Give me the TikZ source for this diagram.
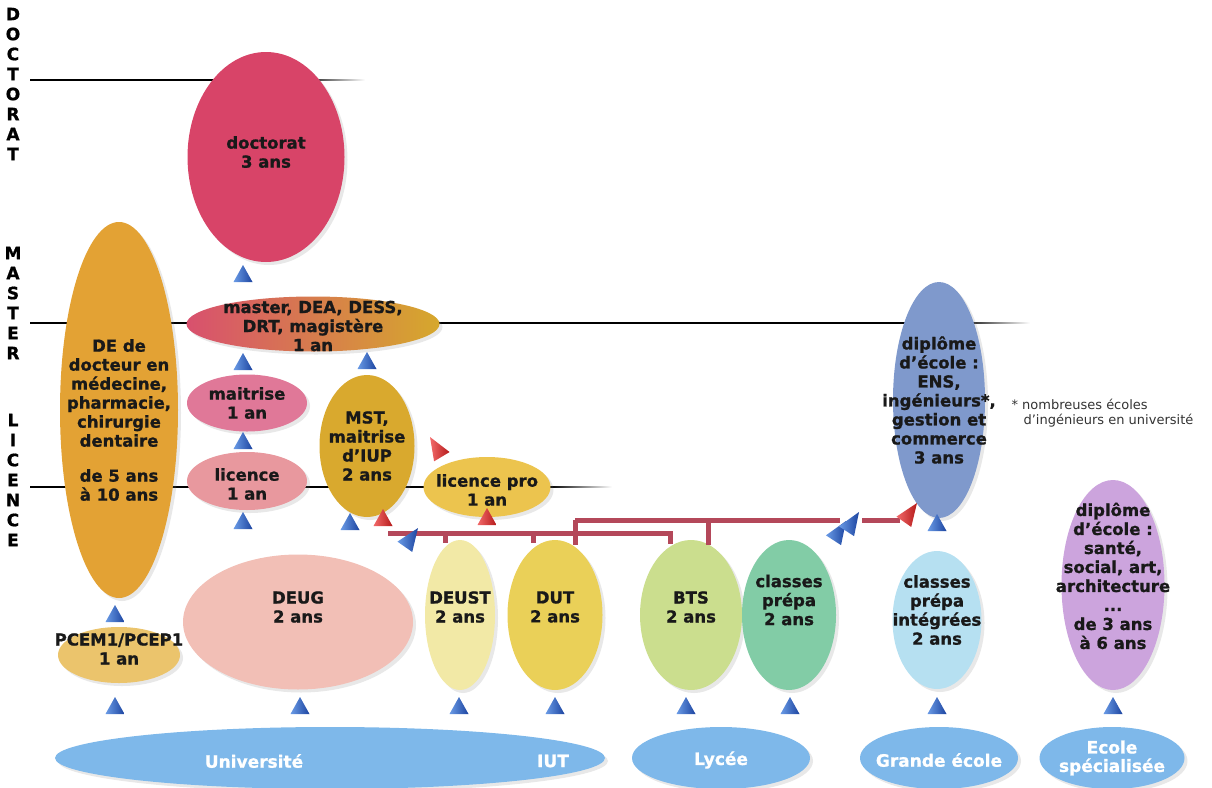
\documentclass[tikz,border=0pt]{standalone}
\usepackage{fontspec}
\setmainfont{DejaVu Sans}[BoldFeatures={FakeBold=1}]
\usepackage{xcolor}
\usetikzlibrary{shapes.geometric, shadows}

\definecolor{rougedoc}{HTML}{D84468}
\definecolor{orangede}{HTML}{E3A234}
\definecolor{mastergauche}{HTML}{D8506E}
\definecolor{masterdroite}{HTML}{D6A82C}
\definecolor{rosemait}{HTML}{E07898}
\definecolor{roselic}{HTML}{E8989E}
\definecolor{ormst}{HTML}{D9A92E}
\definecolor{jaunelp}{HTML}{ECC44E}
\definecolor{orpcem}{HTML}{EBC46C}
\definecolor{rosedeug}{HTML}{F2BFB6}
\definecolor{jaunedeust}{HTML}{F2E9A6}
\definecolor{jaunedut}{HTML}{EAD058}
\definecolor{vertbts}{HTML}{CBDE8E}
\definecolor{vertprepa}{HTML}{82CCA6}
\definecolor{bleuint}{HTML}{B6E0F1}
\definecolor{bleuens}{HTML}{7F99CC}
\definecolor{mauvesante}{HTML}{CCA4DD}
\definecolor{bleubase}{HTML}{7EB8EA}
\definecolor{bleuclair}{HTML}{6A9BE6}
\definecolor{bleufonce}{HTML}{1C44A0}
\definecolor{rougeclair}{HTML}{F26A6A}
\definecolor{rougefonce}{HTML}{B51A1A}
\definecolor{rougebus}{HTML}{B4485A}

\begin{document}
\begin{tikzpicture}[
    x=1pt, y=-1pt,
    % Styles
    bulle/.style={ellipse, inner sep=0pt, outer sep=0pt, drop shadow={opacity=0.18, shadow xshift=3pt, shadow yshift=-3pt}},
    txt/.style={align=center, text=black!90, font=\fontsize{16.5}{19}\selectfont\bfseries},
    basetxt/.style={align=center, text=white, font=\fontsize{17}{18.5}\selectfont\bfseries},
    axe/.style={align=center, font=\fontsize{17}{20}\selectfont\bfseries},
    note/.style={align=left, text=black!80, font=\fontsize{13}{15}\selectfont},
    bus/.style={draw=rougebus, line width=5pt},
    repere/.style={draw=black, line width=1.1pt},
    oblique/.style={xscale=0.95, yscale=1.35},
    % Pointes de fleche
    pointe/.pic={\shade[left color=bleuclair, right color=bleufonce] (0,0) -- (-9.5,17) -- (9.5,17) -- cycle;},
    pointerouge/.pic={\shade[left color=rougeclair, right color=rougefonce] (0,0) -- (-9.5,17) -- (9.5,17) -- cycle;}
]
\useasboundingbox (0,0) rectangle (1212,787);

% Niveaux
\node[axe] (l-doc) at (13,84) {D\\O\\C\\T\\O\\R\\A\\T};
\node[axe] (l-master) at (13,303) {M\\A\\S\\T\\E\\R};
\node[axe] (l-licence) at (13,480) {L\\I\\C\\E\\N\\C\\E};

\draw[repere] (30,80) -- (300,80);
\shade[left color=black, right color=white] (300,79.45) rectangle (365,80.55);
\draw[repere] (30,323) -- (960,323);
\shade[left color=black, right color=white] (960,322.45) rectangle (1030,323.55);
\draw[repere] (30,487) -- (550,487);
\shade[left color=black, right color=white] (550,486.45) rectangle (612,487.55);

% Formations
\node[bulle, fill=rougedoc, minimum width=157pt, minimum height=210pt,
    label={[txt, yshift=5pt]center:{doctorat\\3 ans}}] (doct) at (266,157) {};
\node[bulle, fill=orangede, minimum width=118pt, minimum height=376pt,
    label={[txt, yshift=-10pt]center:{DE de\\docteur en\\médecine,\\pharmacie,\\chirurgie\\dentaire\\[16pt]de 5 ans\\à 10 ans}}] (de) at (119,410) {};
\node[bulle, left color=mastergauche, right color=masterdroite, minimum width=253pt, minimum height=55pt,
    label={[txt, yshift=-2pt]center:{master, DEA, DESS,\\DRT, magistère\\1 an}}] (master) at (313,324) {};
\node[bulle, fill=rosemait, minimum width=120pt, minimum height=57pt,
    label={[txt]center:{maitrise\\1 an}}] (maitrise) at (247,403) {};
\node[bulle, fill=roselic, minimum width=120pt, minimum height=58pt,
    label={[txt, yshift=-3pt]center:{licence\\1 an}}] (licence) at (247,481) {};
\node[bulle, fill=ormst, minimum width=95pt, minimum height=142pt,
    label={[txt]center:{MST,\\maitrise\\d'IUP\\2 ans}}] (mst) at (367,446) {};
\node[bulle, fill=jaunelp, minimum width=127pt, minimum height=60pt,
    label={[txt, yshift=-3pt]center:{licence pro\\1 an}}] (lpro) at (487,487) {};
\node[bulle, fill=orpcem, minimum width=122pt, minimum height=56pt,
    label={[txt, yshift=6pt]center:{PCEM1/PCEP1\\1 an}}] (pcem) at (119,655) {};
\node[bulle, fill=rosedeug, minimum width=230pt, minimum height=135pt,
    label={[txt, yshift=15pt]center:{DEUG\\2 ans}}] (deug) at (298,622) {};
\node[bulle, fill=jaunedeust, minimum width=70pt, minimum height=150pt,
    label={[txt, yshift=8pt]center:{DEUST\\2 ans}}] (deust) at (460,615) {};
\node[bulle, fill=jaunedut, minimum width=95pt, minimum height=150pt,
    label={[txt, yshift=8pt]center:{DUT\\2 ans}}] (dut) at (555,615) {};
\node[bulle, fill=vertbts, minimum width=102pt, minimum height=150pt,
    label={[txt, yshift=8pt]center:{BTS\\2 ans}}] (bts) at (691,615) {};
\node[bulle, fill=vertprepa, minimum width=94pt, minimum height=150pt,
    label={[txt, yshift=15pt]center:{classes\\prépa\\2 ans}}] (prepa) at (789,615) {};
\node[bulle, fill=bleuint, minimum width=89pt, minimum height=138pt,
    label={[txt, yshift=10pt]center:{classes\\prépa\\intégrées\\2 ans}}] (prepaint) at (937,620) {};
\node[bulle, fill=bleuens, minimum width=92pt, minimum height=236pt,
    label={[txt]center:{diplôme\\d'école :\\ENS,\\ingénieurs*,\\gestion et\\commerce\\3 ans}}] (ens) at (939,400) {};
\node[bulle, fill=mauvesante, minimum width=103pt, minimum height=210pt,
    label={[txt, yshift=9pt]center:{diplôme\\d'école :\\santé,\\social, art,\\architecture\\...\\de 3 ans\\à 6 ans}}] (sante) at (1113,585) {};

% Etablissements
\node[bulle, fill=bleubase, minimum width=550pt, minimum height=62pt] (univ) at (330,758) {};
\node[bulle, fill=bleubase, minimum width=178pt, minimum height=62pt] (lycee) at (721,758) {};
\node[bulle, fill=bleubase, minimum width=158pt, minimum height=62pt] (grande) at (939,758) {};
\node[bulle, fill=bleubase, minimum width=145pt, minimum height=62pt] (ecole) at (1112,758) {};
\node[basetxt] (t-univ) at (254,761) {Université};
\node[basetxt] (t-iut) at (553,761) {IUT};
\node[basetxt] (t-lycee) at (721,760) {Lycée};
\node[basetxt] (t-grande) at (939,760) {Grande école};
\node[basetxt] (t-ecole) at (1112,758) {Ecole\\spécialisée};

% Note
\node[note, anchor=north west] (note) at (1008,396) {* nombreuses écoles\\\hspace*{12pt}d'ingénieurs en université};

% Passerelles
\draw[bus] (388,533) -- (670,533) -- (670,544);
\draw[bus] (445,533) -- (445,543);
\draw[bus] (533,533) -- (533,543);
\draw[bus] (575,520) -- (575,545);
\draw[bus] (575,520) -- (840,520);
\draw[bus] (708,520) -- (708,545);
\draw[bus] (862,520) -- (900,520);

% Fleches
\pic at (243,265) {pointe};
\pic at (243,353) {pointe};
\pic at (243,432) {pointe};
\pic at (243,512) {pointe};
\pic at (367,352) {pointe};
\pic at (350,513) {pointe};
\pic at (115,605) {pointe};
\pic at (937,514) {pointe};
\foreach \xb in {115,300,459,555,686,790,937,1113}
    \pic at (\xb,697) {pointe};
\pic[rotate=-35, oblique] at (418,528) {pointe};
\pic[rotate=-33, oblique] at (846,521) {pointe};
\pic[rotate=-33, oblique] at (859,512) {pointe};
\pic at (383,509) {pointerouge};
\pic at (487,508) {pointerouge};
\pic[rotate=31, oblique] at (430,437) {pointerouge};
\pic[rotate=-35, oblique] at (917,503) {pointerouge};

\end{tikzpicture}
\end{document}
